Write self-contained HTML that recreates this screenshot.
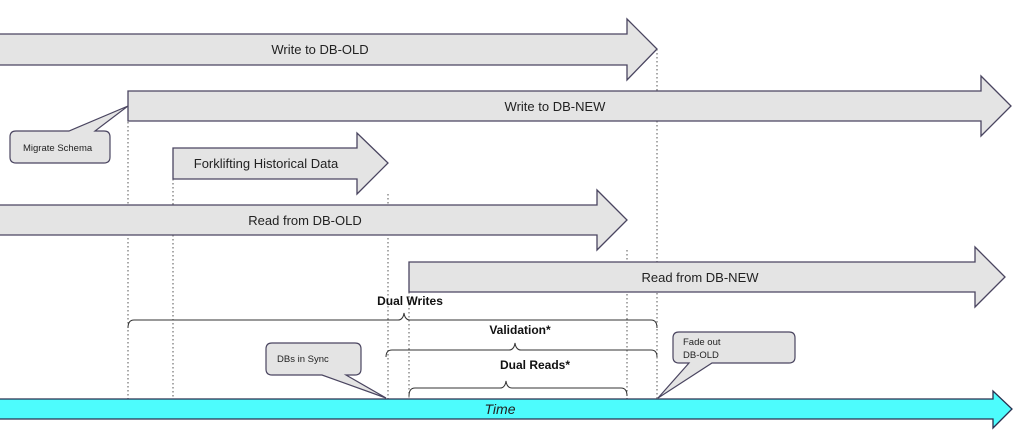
<!DOCTYPE html>
<html><head><meta charset="utf-8"><style>
html,body{margin:0;padding:0;background:#fff;}
svg{display:block;font-family:"Liberation Sans",Calibri,sans-serif;}
</style></head><body>
<svg width="1018" height="436" viewBox="0 0 1018 436" xmlns="http://www.w3.org/2000/svg">
<g stroke="#555" stroke-width="1" stroke-dasharray="1.5,2.5">
<line x1="128" y1="122" x2="128" y2="399"/>
<line x1="173" y1="179" x2="173" y2="399"/>
<line x1="388" y1="194" x2="388" y2="399"/>
<line x1="409" y1="292" x2="409" y2="399"/>
<line x1="627" y1="250" x2="627" y2="399"/>
<line x1="657" y1="49" x2="657" y2="399"/>
</g>
<g stroke="#4a4560" stroke-width="1.3" fill="#e4e4e4">
<polygon points="-5,34 627,34 627,19 657,49 627,80 627,65 -5,65"/>
<polygon points="128,91 981,91 981,76 1011,106 981,136 981,121 128,121"/>
<polygon points="173,148 357,148 357,133 388,163 357,194 357,179 173,179"/>
<polygon points="-5,205 597,205 597,190 627,220 597,250 597,235 -5,235"/>
<polygon points="409,262 975,262 975,247 1005,277 975,307 975,292 409,292"/>
<polygon fill="#4dfcfd" stroke="#2a3050" points="-5,399 993,399 993,391 1012,409 993,428 993,419 -5,419"/>
</g>
<g font-size="13" fill="#222" text-anchor="middle">
<text x="320" y="54">Write to DB-OLD</text>
<text x="555" y="111">Write to DB-NEW</text>
<text x="266" y="168">Forklifting Historical Data</text>
<text x="305" y="225">Read from DB-OLD</text>
<text x="700" y="282">Read from DB-NEW</text>
<text x="500" y="414" font-style="italic" font-size="14">Time</text>
</g>
<g fill="none" stroke="#333" stroke-width="1">
<path d="M128,328 Q128,320 134,320 L398,320 Q403,320 404,313 Q405,320 410,320 L651,320 Q657,320 657,328"/>
<path d="M386,357 Q386,350 392,350 L509,350 Q514,350 515,343 Q516,350 521,350 L651,350 Q657,350 657,357"/>
<path d="M409,396 Q409,388 415,388 L500,388 Q505,388 506,381 Q507,388 512,388 L621,388 Q627,388 627,396"/>
</g>
<g font-size="12" font-weight="bold" fill="#111" text-anchor="middle">
<text x="410" y="305">Dual Writes</text>
<text x="520" y="334">Validation*</text>
<text x="535" y="369">Dual Reads*</text>
</g>
<g fill="#e4e4e4" stroke="#4a4560" stroke-width="1.2">
<path d="M16,131 L69,131 L128,106 L95,131 L104,131 Q110,131 110,137 L110,157 Q110,163 104,163 L16,163 Q10,163 10,157 L10,137 Q10,131 16,131 Z"/>
<path d="M272,343 L355,343 Q361,343 361,349 L361,369 Q361,375 355,375 L346,375 L386,398 L322,375 L272,375 Q266,375 266,369 L266,349 Q266,343 272,343 Z"/>
<path d="M679,332 L789,332 Q795,332 795,338 L795,357 Q795,363 789,363 L712,363 L658,398 L689,363 L679,363 Q673,363 673,357 L673,338 Q673,332 679,332 Z"/>
</g>
<g font-size="9.5" fill="#222">
<text x="23" y="151">Migrate Schema</text>
<text x="277" y="362">DBs in Sync</text>
<text x="683" y="345">Fade out</text>
<text x="683" y="358">DB-OLD</text>
</g>
</svg>
</body></html>
